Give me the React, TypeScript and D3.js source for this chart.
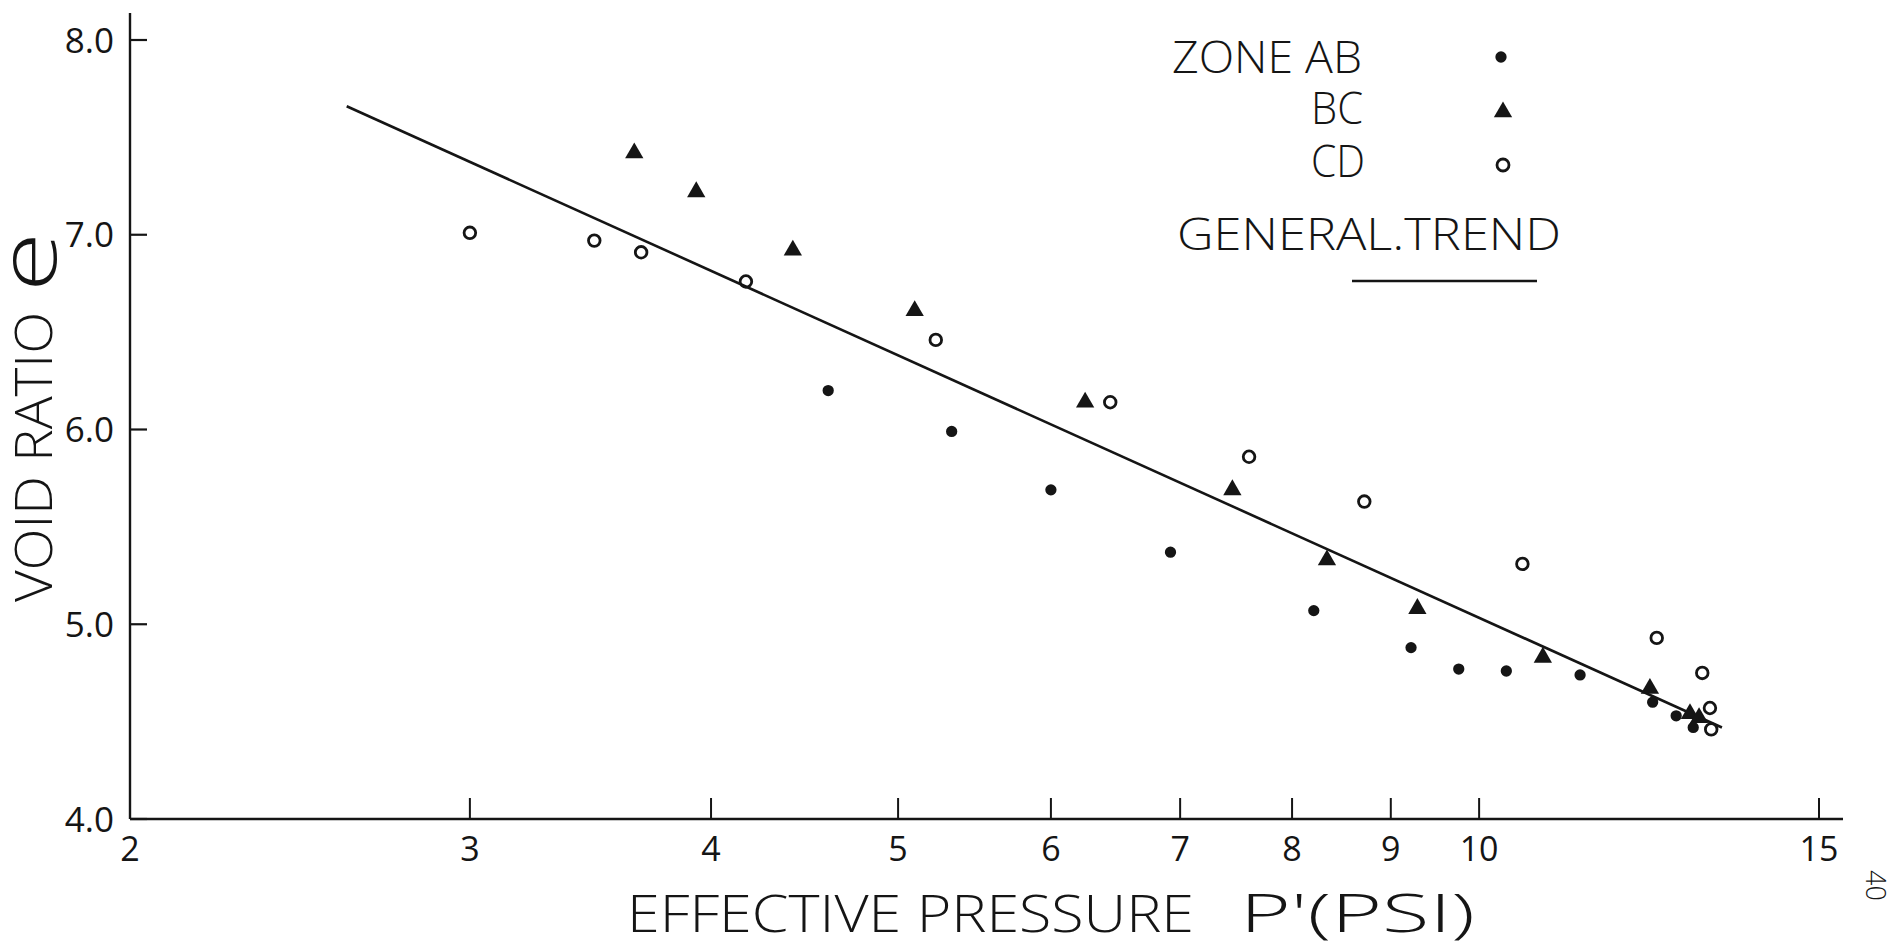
import React from "react";
import * as d3 from "d3";

// Void ratio e against effective pressure P' (psi), three zones plus the fitted trend.
const zoneAB: [number, number][] = [
  [4.6, 6.2], [5.33, 5.99], [6.0, 5.69], [6.92, 5.37], [8.21, 5.07], [9.22, 4.88],
  [9.76, 4.77], [10.33, 4.76], [11.28, 4.74], [12.3, 4.6], [12.65, 4.53], [12.91, 4.47],
];
const zoneBC: [number, number][] = [
  [3.65, 7.42], [3.93, 7.22], [4.41, 6.92], [5.1, 6.61], [6.25, 6.14], [7.45, 5.69],
  [8.34, 5.33], [9.29, 5.08], [10.79, 4.83], [12.26, 4.67], [12.86, 4.54], [13.0, 4.52],
];
const zoneCD: [number, number][] = [
  [3.0, 7.01], [3.48, 6.97], [3.68, 6.91], [4.17, 6.76], [5.23, 6.46], [6.44, 6.14],
  [7.6, 5.86], [8.72, 5.63], [10.53, 5.31], [12.36, 4.93], [13.05, 4.75], [13.17, 4.57],
  [13.19, 4.46],
];
const trend: [number, number][] = [[2.59, 7.66], [13.36, 4.47]];

const xTicks = [2, 3, 4, 5, 6, 7, 8, 9, 10, 15];
const yTicks = [4, 5, 6, 7, 8];
const legendZones = ["ZONE AB", "BC", "CD"];

const INK = "#151515";
const FONT = "'Open Sans', 'Liberation Sans', sans-serif";

export default function App() {
  const W = 1891;
  const H = 948;
  const x = d3.scaleLog().domain([2, 15]).range([130, 1819]);
  const y = d3.scaleLinear().domain([4, 8]).range([819, 40]);

  const dot = d3.symbol().type(d3.symbolCircle).size(100)()!;
  const tri = d3.symbol().type(d3.symbolTriangle).size(145)()!;
  const line = d3
    .line<[number, number]>()
    .x((d) => x(d[0]))
    .y((d) => y(d[1]));

  const x0 = x.range()[0];
  const y0 = y.range()[0];

  return (
    <svg
      width={W}
      height={H}
      viewBox={`0 0 ${W} ${H}`}
      style={{ position: "absolute", left: 0, top: 0, background: "#fff" }}
      fontFamily={FONT}
    >
      <rect width={W} height={H} fill="#fff" />

      {/* axes */}
      <line x1={x0} y1={13} x2={x0} y2={y0} stroke={INK} strokeWidth={2.4} />
      <line x1={x0} y1={y0} x2={x.range()[1] + 24} y2={y0} stroke={INK} strokeWidth={2.4} />

      {yTicks.map((t) => (
        <g key={`y${t}`}>
          <line x1={x0} x2={x0 + 17} y1={y(t)} y2={y(t)} stroke={INK} strokeWidth={2.2} />
          <text x={114} y={y(t)} dy="0.36em" textAnchor="end" fontSize={35} fill={INK}>
            {t.toFixed(1)}
          </text>
        </g>
      ))}

      {xTicks.map((t) => (
        <g key={`x${t}`}>
          {t !== 2 && (
            <line x1={x(t)} x2={x(t)} y1={y0} y2={y0 - 21} stroke={INK} strokeWidth={2} />
          )}
          <text x={x(t)} y={861} textAnchor="middle" fontSize={34} fill={INK}>
            {t}
          </text>
        </g>
      ))}

      {/* axis titles */}
      <text x={627} y={932} fontSize={51} fill={INK} fontWeight={300} textLength={567} lengthAdjust="spacingAndGlyphs">
        EFFECTIVE PRESSURE
      </text>
      <text x={1240} y={932} fontSize={53} fill={INK} fontWeight={300} textLength={235} lengthAdjust="spacingAndGlyphs">
        P'(PSI)
      </text>
      <g transform="translate(52,602) rotate(-90)">
        <text x={0} y={0} fontSize={52} fill={INK} fontWeight={300} textLength={290} lengthAdjust="spacingAndGlyphs">
          VOID RATIO
        </text>
      </g>
      <g transform="translate(56,292) rotate(-90)">
        <text x={0} y={0} fontSize={80} fill={INK} fontWeight={300} textLength={60} lengthAdjust="spacingAndGlyphs">
          e
        </text>
      </g>

      {/* trend line */}
      <path d={line(trend)!} fill="none" stroke={INK} strokeWidth={2.6} />

      {/* zone CD: open circles */}
      {zoneCD.map((d, i) => (
        <circle key={`cd${i}`} cx={x(d[0])} cy={y(d[1])} r={5.8} fill="none" stroke={INK} strokeWidth={2.8} />
      ))}
      {/* zone BC: filled triangles */}
      {zoneBC.map((d, i) => (
        <path key={`bc${i}`} d={tri} transform={`translate(${x(d[0])},${y(d[1])})`} fill={INK} />
      ))}
      {/* zone AB: filled dots */}
      {zoneAB.map((d, i) => (
        <path key={`ab${i}`} d={dot} transform={`translate(${x(d[0])},${y(d[1])})`} fill={INK} />
      ))}

      {/* legend */}
      <text x={1362} y={73} textAnchor="end" fontSize={44} fill={INK} fontWeight={300} textLength={190} lengthAdjust="spacingAndGlyphs">
        {legendZones[0]}
      </text>
      <text x={1311} y={124} fontSize={44} fill={INK} fontWeight={300} textLength={52} lengthAdjust="spacingAndGlyphs">
        {legendZones[1]}
      </text>
      <text x={1311} y={177} fontSize={44} fill={INK} fontWeight={300} textLength={54} lengthAdjust="spacingAndGlyphs">
        {legendZones[2]}
      </text>
      <path d={dot} transform="translate(1501,57)" fill={INK} />
      <path d={tri} transform="translate(1503,112)" fill={INK} />
      <circle cx={1503} cy={165} r={6} fill="none" stroke={INK} strokeWidth={2.8} />
      <text x={1177} y={250} fontSize={44} fill={INK} fontWeight={300} textLength={384} lengthAdjust="spacingAndGlyphs">
        GENERAL.TREND
      </text>
      <line x1={1352} x2={1537} y1={281} y2={281} stroke={INK} strokeWidth={2.6} />

      {/* page number */}
      <g transform="translate(1866,870) rotate(90)">
        <text x={0} y={0} fontSize={27} fill={INK} fontWeight={300}>
          40
        </text>
      </g>
    </svg>
  );
}
